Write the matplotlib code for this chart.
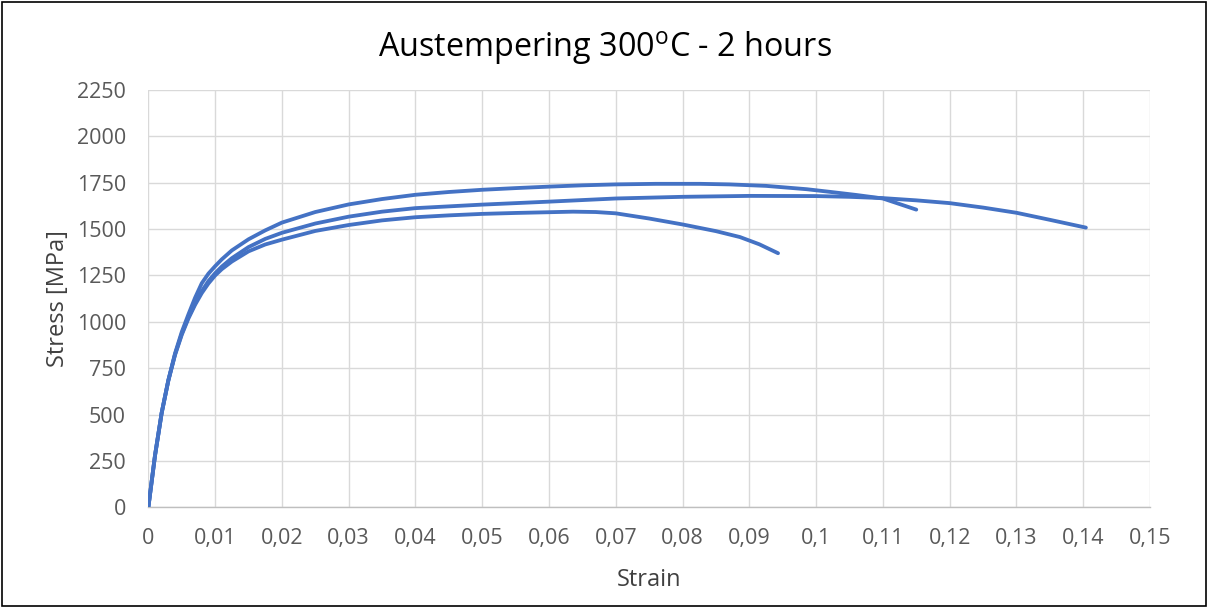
import matplotlib
matplotlib.use("Agg")
import matplotlib.pyplot as plt
from matplotlib.patches import Rectangle
from matplotlib.ticker import FuncFormatter, MultipleLocator

plt.rcParams['font.family'] = ['Open Sans', 'DejaVu Sans']
plt.rcParams['mathtext.fontset'] = 'custom'
plt.rcParams['mathtext.rm'] = 'Open Sans'

# three specimens (strain [-], stress [MPa])
strain_a = [0, 0.001, 0.002, 0.003, 0.004, 0.005, 0.006, 0.007, 0.008, 0.009,
            0.01, 0.011, 0.0125, 0.015, 0.0175, 0.02, 0.025, 0.03, 0.035, 0.04,
            0.045, 0.05, 0.055, 0.06, 0.065, 0.07, 0.076, 0.0826, 0.087, 0.0925,
            0.0986, 0.102, 0.106, 0.11, 0.115]
stress_a = [0, 280, 510, 685, 830, 945, 1040, 1130, 1208, 1260,
            1300, 1337, 1385, 1445, 1493, 1535, 1592, 1633, 1662, 1685,
            1700, 1712, 1721, 1729, 1736, 1741, 1744, 1744, 1741, 1733,
            1715, 1701, 1684, 1665, 1605]

strain_b = [0, 0.001, 0.002, 0.003, 0.004, 0.005, 0.006, 0.007, 0.008, 0.009,
            0.01, 0.011, 0.0125, 0.015, 0.0175, 0.02, 0.025, 0.03, 0.035, 0.04,
            0.05, 0.06, 0.07, 0.08, 0.09, 0.1, 0.105, 0.11, 0.115, 0.12,
            0.125, 0.13, 0.135, 0.1404]
stress_b = [0, 280, 510, 685, 825, 935, 1025, 1100, 1165, 1220,
            1262, 1298, 1343, 1403, 1447, 1480, 1530, 1567, 1594, 1613,
            1632, 1648, 1665, 1674, 1679, 1678, 1674, 1667, 1655, 1640,
            1616, 1588, 1550, 1508]

strain_c = [0, 0.001, 0.002, 0.003, 0.004, 0.005, 0.006, 0.007, 0.008, 0.009,
            0.01, 0.011, 0.0125, 0.015, 0.0175, 0.02, 0.025, 0.03, 0.035, 0.04,
            0.045, 0.05, 0.055, 0.06, 0.0636, 0.067, 0.07, 0.075, 0.08, 0.085,
            0.0886, 0.0915, 0.0943]
stress_c = [0, 280, 510, 685, 822, 930, 1018, 1092, 1155, 1207,
            1250, 1284, 1325, 1380, 1417, 1443, 1490, 1522, 1547, 1564,
            1574, 1582, 1587, 1591, 1594, 1592, 1585, 1557, 1525, 1489,
            1457, 1418, 1370]

blue = '#4472C4'
grid_col = '#D9D9D9'
tick_col = '#595959'
label_col = '#404040'

fig = plt.figure(figsize=(12.1, 6.08), dpi=100)
ax = fig.add_axes([0.1226, 0.1656, 0.8278, 0.6864])

for sx, sy in [(strain_a, stress_a), (strain_b, stress_b), (strain_c, stress_c)]:
    ax.plot(sx, sy, color=blue, lw=2.75, solid_capstyle='round',
            solid_joinstyle='round', zorder=3)

ax.set_xlim(0, 0.15)
ax.set_ylim(0, 2250)
ax.xaxis.set_major_locator(MultipleLocator(0.01))
ax.yaxis.set_major_locator(MultipleLocator(250))
ax.xaxis.set_major_formatter(FuncFormatter(
    lambda v, p: ('%g' % round(v, 4)).replace('.', ',')))
ax.yaxis.set_major_formatter(FuncFormatter(lambda v, p: '%d' % v))

ax.grid(True, color=grid_col, lw=1.0)
ax.set_axisbelow(True)
for s in ['top', 'right', 'left']:
    ax.spines[s].set_visible(False)
ax.spines['bottom'].set_color('#BFBFBF')
ax.spines['bottom'].set_linewidth(1.0)
ax.tick_params(length=0, labelsize=15.5, labelcolor=tick_col)
ax.tick_params(axis='x', pad=15)
ax.tick_params(axis='y', pad=16)

ax.set_xlabel('Strain', fontsize=17, color=label_col)
ax.set_ylabel('Stress [MPa]', fontsize=17, color=label_col)
ax.xaxis.set_label_coords(0.5, -0.1455)
ax.yaxis.set_label_coords(-0.0785, 0.5)

# title is centred on the whole figure, not on the axes
fig.text(0.5, 1 - 57 / 608, r'Austempering 300$^{\mathrm{o}}$C - 2 hours',
         fontsize=23.3, color='black', ha='center', va='baseline')

fig.patches.append(Rectangle((0.002, 0.004), 0.995, 0.993, transform=fig.transFigure,
                             fill=False, edgecolor='black', lw=1.2))

fig.savefig('out.png', dpi=100)
